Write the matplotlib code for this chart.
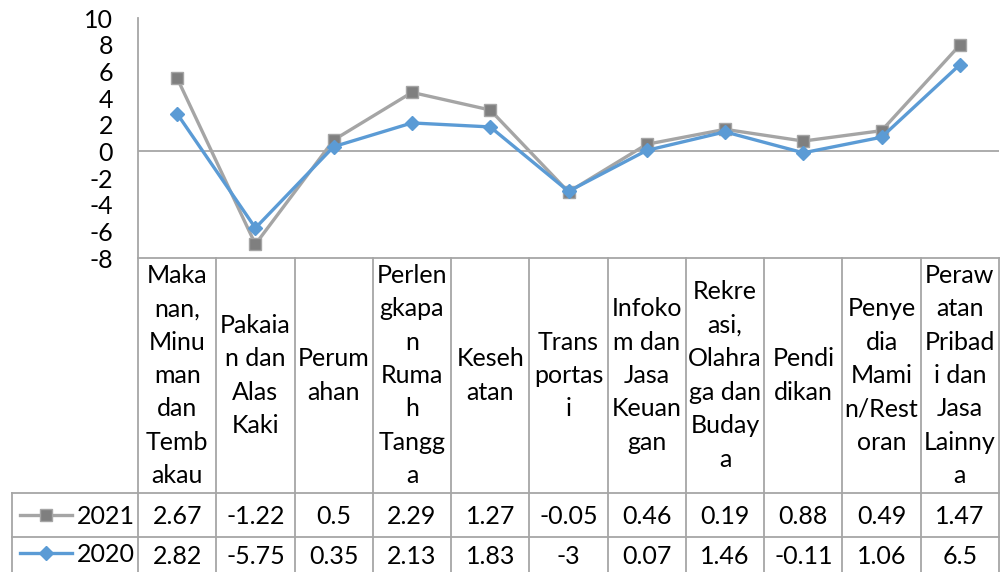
import numpy as np
import matplotlib.pyplot as plt
from matplotlib.lines import Line2D

categories = [
    "Maka\nnan,\nMinu\nman\ndan\nTemb\nakau",
    "Pakaia\nn dan\nAlas\nKaki",
    "Perum\nahan",
    "Perlen\ngkapa\nn\nRuma\nh\nTangg\na",
    "Keseh\natan",
    "Trans\nportas\ni",
    "Infoko\nm dan\nJasa\nKeuan\ngan",
    "Rekre\nasi,\nOlahra\nga dan\nBuday\na",
    "Pendi\ndikan",
    "Penye\ndia\nMami\nn/Rest\noran",
    "Peraw\natan\nPribad\ni dan\nJasa\nLainny\na",
]
v2021 = [2.67, -1.22, 0.5, 2.29, 1.27, -0.05, 0.46, 0.19, 0.88, 0.49, 1.47]
v2020 = [2.82, -5.75, 0.35, 2.13, 1.83, -3, 0.07, 1.46, -0.11, 1.06, 6.5]
yticks = list(range(-8, 11, 2))

plt.rcParams['font.family'] = ['Lato', 'DejaVu Sans']
W, H = 1001, 572
FS = 18
gray_line = '#a5a5a5'
gray_mk = '#7f7f7f'
blue = '#5b9bd5'
grid_c = '#a6a6a6'

fig = plt.figure(figsize=(W / 100, H / 100), dpi=100)

def fx(x):
    return x / W

def fy(y):
    return 1 - y / H

x_left, x_right = 138, 999
y_top, y_bot = 18, 258
ax = fig.add_axes([fx(x_left), fy(y_bot), fx(x_right) - fx(x_left), fy(y_top) - fy(y_bot)])
n = len(categories)
xs = np.arange(n)
stack2021 = np.array(v2020) + np.array(v2021)  # stacked line chart

ax.axhline(0, color=grid_c, lw=1.3, zorder=1)
ax.plot(xs, stack2021, color=gray_line, lw=2.4, marker='s', ms=8,
        mfc=gray_mk, mec=gray_line, mew=1, zorder=3)
ax.plot(xs, v2020, color=blue, lw=2.4, marker='D', ms=7,
        mfc=blue, mec=blue, zorder=4)
ax.set_xlim(-0.5, n - 0.5)
ax.set_ylim(-8, 10)
ax.set_yticks(yticks)
ax.set_yticklabels([str(t) for t in yticks], fontsize=FS)
ax.tick_params(axis='y', length=0, pad=18)
ax.set_xticks([])
for s in ['top', 'right', 'bottom']:
    ax.spines[s].set_visible(False)
ax.spines['left'].set_color(grid_c)
ax.spines['left'].set_linewidth(1.3)
ax.patch.set_alpha(0)

# data table below the plot
col_w = (x_right - x_left) / n
row1_top, row2_top, row3_top, tbl_bot = 258, 493, 537, 590
leg_left = 12

def hline(y, x0, x1):
    fig.add_artist(Line2D([fx(x0), fx(x1)], [fy(y), fy(y)], color=grid_c, lw=1.3))

def vline(x, y0, y1):
    fig.add_artist(Line2D([fx(x), fx(x)], [fy(y0), fy(y1)], color=grid_c, lw=1.3))

hline(row1_top, x_left, x_right)
hline(row2_top, leg_left, x_right)
hline(row3_top, leg_left, x_right)
for i in range(n + 1):
    vline(x_left + i * col_w, row1_top, tbl_bot)
vline(leg_left, row2_top, tbl_bot)

for i, cat in enumerate(categories):
    cx = x_left + (i + 0.5) * col_w
    fig.text(fx(cx), fy((row1_top + row2_top) / 2), cat, ha='center', va='center',
             fontsize=FS, linespacing=1.55)
    fig.text(fx(cx), fy((row2_top + row3_top) / 2 + 1), str(v2021[i]),
             ha='center', va='center', fontsize=FS)
    fig.text(fx(cx), fy(556), str(v2020[i]), ha='center', va='center', fontsize=FS)

# legend keys in the table
for ycen, lab, col, mk, mfc, mec, ms in [
        ((row2_top + row3_top) / 2, '2021', gray_line, 's', gray_mk, gray_line, 8),
        (553, '2020', blue, 'D', blue, blue, 7)]:
    fig.add_artist(Line2D([fx(20), fx(72)], [fy(ycen), fy(ycen)], color=col, lw=2.4))
    fig.add_artist(Line2D([fx(46)], [fy(ycen)], marker=mk, ms=ms, mfc=mfc, mec=mec,
                          color=col))
    fig.text(fx(77), fy(ycen + 1), lab, ha='left', va='center', fontsize=FS)

fig.savefig('out.png', dpi=100)
